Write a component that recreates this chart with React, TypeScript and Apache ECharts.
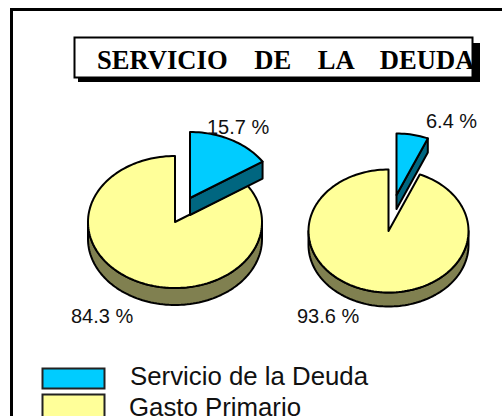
import React, { useEffect, useRef } from "react";
import * as echarts from "echarts";

const categories = ["Servicio de la Deuda", "Gasto Primario"];
const servicioDeuda = [15.7, 6.4];
const gastoPrimario = [84.3, 93.6];
const pieLabels = [["15.7 %", "84.3 %"], ["6.4 %", "93.6 %"]];
const titleText = "SERVICIO    DE    LA    DEUDA";

const pies = [
  { cx: 175, cy: 222, rx: 87, ry: 66, d: 17, ox: 15, oy: -24 },
  { cx: 388.5, cy: 231, rx: 80, ry: 61.5, d: 14, ox: 8, oy: -36 },
];
const labelPos = [
  [[207, 127], [71, 316]],
  [[426, 121], [297, 316]],
];

const arc = (p: any, cx: number, cy: number, a0: number, a1: number) => {
  const n = Math.max(2, Math.ceil(Math.abs(a1 - a0) / 2));
  const pts: number[][] = [];
  for (let i = 0; i <= n; i++) {
    const a = ((a0 + ((a1 - a0) * i) / n) * Math.PI) / 180;
    pts.push([cx + p.rx * Math.sin(a), cy - p.ry * Math.cos(a)]);
  }
  return pts;
};

const poly = (points: number[][], fill: string) => ({
  type: "polygon",
  shape: { points },
  style: { fill, stroke: "#000", lineWidth: 2, lineJoin: "round" },
});

const renderItem = (_: any, api: any) => {
  const i = api.value(0);
  const p = pies[i];
  const sweep = (api.value(1) / (api.value(1) + api.value(2))) * 360;
  const children: any[] = [];
  const b = { ...p, cx: p.cx + p.ox, cy: p.cy + p.oy };

  // yellow slice: wall then top
  const frontStart = Math.max(sweep, 90);
  const upper = arc(p, p.cx, p.cy, frontStart, 270);
  const lower = arc(p, p.cx, p.cy + p.d, frontStart, 270).reverse();
  children.push(poly([...upper, ...lower], "#808050"));
  children.push(poly([[p.cx, p.cy], ...arc(p, p.cx, p.cy, sweep, 360)], "#FFFF99"));

  // blue slice: wall then top
  const end = arc(b, b.cx, b.cy, sweep, sweep)[0];
  children.push(
    poly([[b.cx, b.cy], end, [end[0], end[1] + p.d], [b.cx, b.cy + p.d]], "#006680")
  );
  children.push(poly([[b.cx, b.cy], ...arc(b, b.cx, b.cy, 0, sweep)], "#00CCFF"));
  return { type: "group", children };
};

export default function App() {
  const ref = useRef<HTMLDivElement>(null);
  useEffect(() => {
    const chart = echarts.init(ref.current!, null, { renderer: "svg" });
    const labelFont = { fontFamily: "Liberation Sans", fontSize: 20, fill: "#111" };
    const labels: any[] = [];
    pieLabels.forEach((pair, i) =>
      pair.forEach((t, j) =>
        labels.push({
          type: "text",
          x: labelPos[i][j][0],
          y: labelPos[i][j][1],
          z: 10,
          style: { ...labelFont, text: t, textVerticalAlign: "middle" },
        })
      )
    );
    chart.setOption({
      animation: false,
      backgroundColor: "#fff",
      graphic: [
        { type: "rect", shape: { x: 11.5, y: 9.5, width: 520, height: 450 }, style: { fill: "#fff", stroke: "#000", lineWidth: 3 } },
        { type: "rect", shape: { x: 78, y: 43, width: 402, height: 39 }, style: { fill: "#000" } },
        { type: "rect", shape: { x: 74.5, y: 37.5, width: 398, height: 40 }, style: { fill: "#fff", stroke: "#000", lineWidth: 2 } },
        { type: "text", x: 97, y: 60, z: 5, style: { text: titleText, fontFamily: "Liberation Serif", fontWeight: "bold", fontSize: 26.6, fill: "#000", textVerticalAlign: "middle" } },
        { type: "rect", shape: { x: 42.5, y: 368.5, width: 62, height: 20 }, style: { fill: "#00CCFF", stroke: "#222", lineWidth: 2 } },
        { type: "rect", shape: { x: 42.5, y: 394.5, width: 62, height: 26 }, style: { fill: "#FFFF99", stroke: "#222", lineWidth: 2 } },
        { type: "text", x: 130, y: 376, style: { text: categories[0], fontFamily: "Liberation Sans", fontSize: 25.8, fill: "#111", textVerticalAlign: "middle" } },
        { type: "text", x: 129, y: 407, style: { text: categories[1], fontFamily: "Liberation Sans", fontSize: 25.8, fill: "#111", textVerticalAlign: "middle" } },
        ...labels,
      ],
      series: [
        {
          type: "custom",
          coordinateSystem: "none",
          renderItem,
          data: servicioDeuda.map((v, i) => [i, v, gastoPrimario[i]]),
        },
      ],
    });
    return () => chart.dispose();
  }, []);
  return <div ref={ref} style={{ position: "fixed", left: 0, top: 0, width: 502, height: 416 }} />;
}
